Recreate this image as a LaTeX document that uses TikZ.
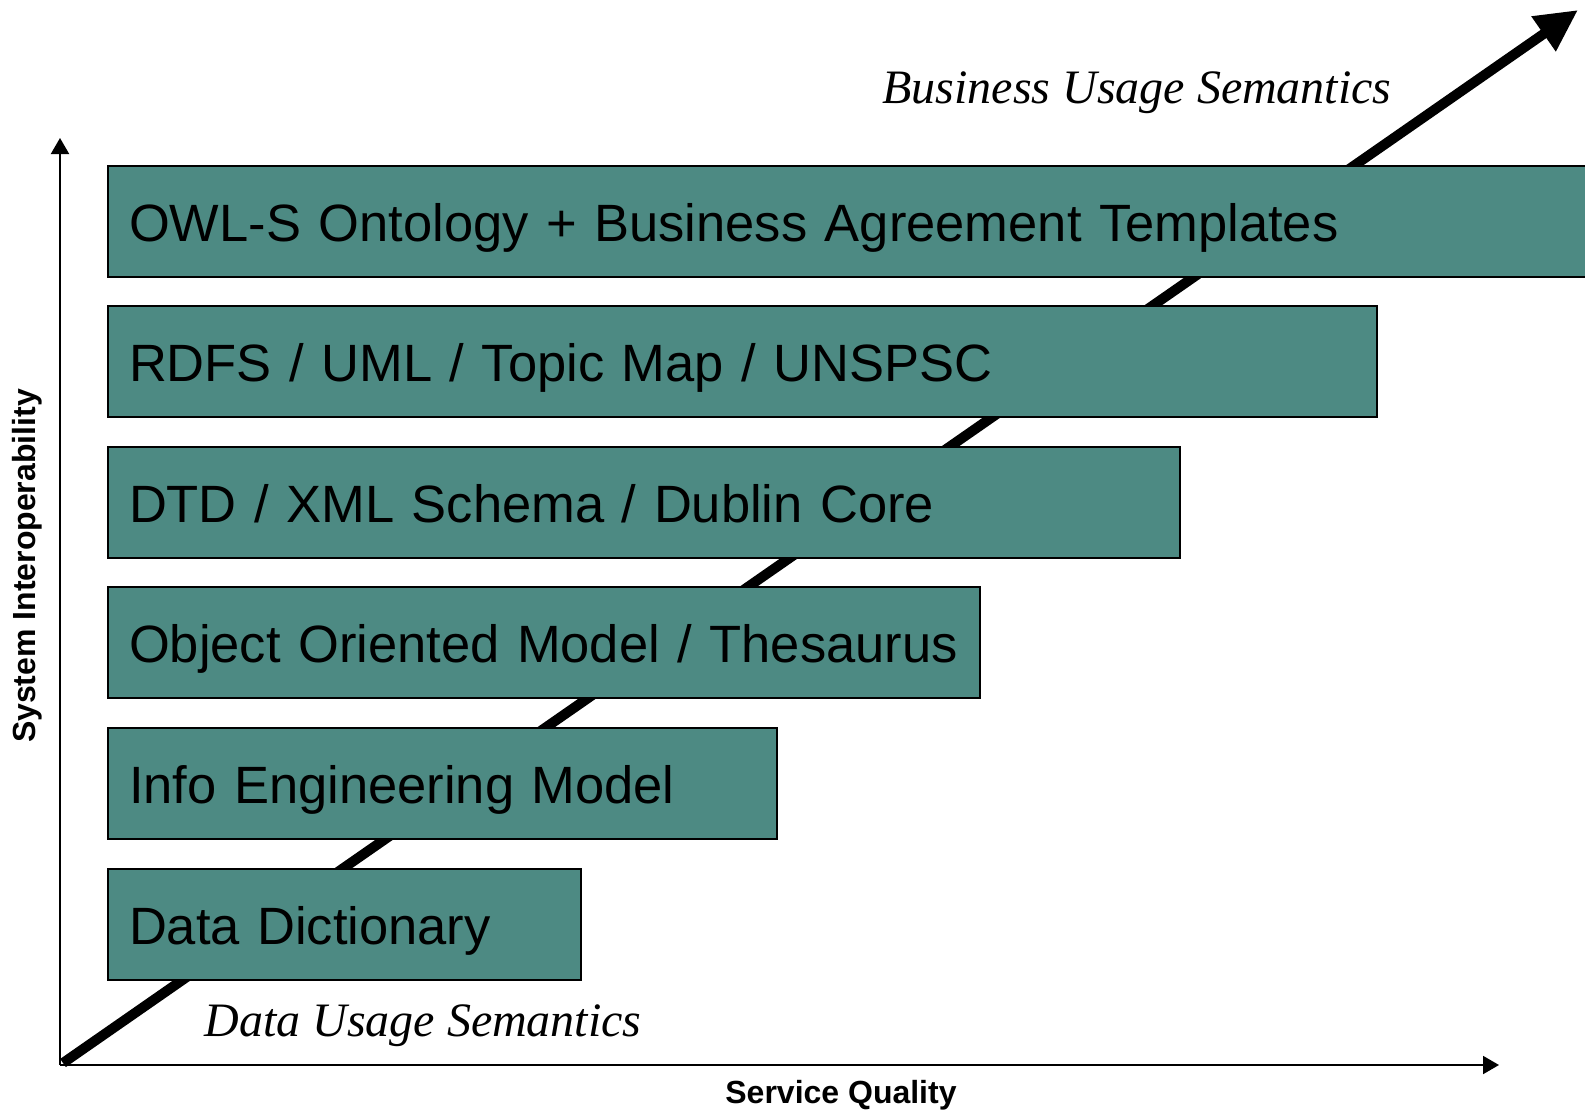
\documentclass[tikz,border=0pt]{standalone}
\usepackage{fontspec}
\setmainfont{Liberation Sans}
\newfontfamily\serifit{Liberation Serif}
\usetikzlibrary{arrows.meta}

\definecolor{boxteal}{RGB}{77,138,131}

\tikzset{
	level/.style={draw=black, line width=2pt, fill=boxteal, anchor=north west,
		inner ysep=0pt, text height=75pt, text depth=36pt, inner xsep=21pt, align=left,
		font=\fontsize{52.5}{60}\selectfont},
	semantics/.style={font=\serifit\itshape\fontsize{48}{52}\selectfont},
	axislabel/.style={font=\bfseries\fontsize{32}{36}\selectfont},
}

\begin{document}
\begin{tikzpicture}[x=1pt, y=-1pt]
				\useasboundingbox (0, 0) rectangle (1585, 1111);
				\coordinate (o) at (60, 1065);
				\coordinate (ytop) at (60, 138);
				\coordinate (xend) at (1499, 1065);
				\coordinate (start) at (63, 1063);
				\coordinate (tip) at (1578, 10);
				% rising semantics arrow, behind the levels
				\draw[line width=10pt, -{Triangle[length=42pt, width=40pt]}] (start) to (tip);
				\node[level, text width=1560pt] (owls) at (107, 165) {\mbox{OWL-S Ontology + Business Agreement Templates}};
				\node[level, text width=1227pt] (rdfs) at (107, 305) {\mbox{RDFS / UML / Topic Map / UNSPSC}};
				\node[level, text width=1030pt] (dtd) at (107, 446) {\mbox{DTD / XML Schema / Dublin Core}};
				\node[level, text width=830pt] (oom) at (107, 586) {\mbox{Object Oriented Model / Thesaurus}};
				\node[level, text width=627pt] (info) at (107, 727) {\mbox{Info Engineering Model}};
				\node[level, text width=431pt] (dict) at (107, 868) {\mbox{Data Dictionary}};
				\node[semantics] (business) at (1137, 93) {Business Usage Semantics};
				\node[semantics] (datasem) at (423, 1026) {Data Usage Semantics};
				% axes
				\draw[line width=2pt, -{Triangle[length=16pt, width=18pt]}] (o) to (ytop);
				\draw[line width=2pt, -{Triangle[length=16pt, width=18pt]}] (o) to (xend);
				\node[axislabel] (quality) at (841, 1095) {Service Quality};
				\node[axislabel, rotate=90] (interop) at (27, 566) {System Interoperability};
			\end{tikzpicture}
\end{document}
